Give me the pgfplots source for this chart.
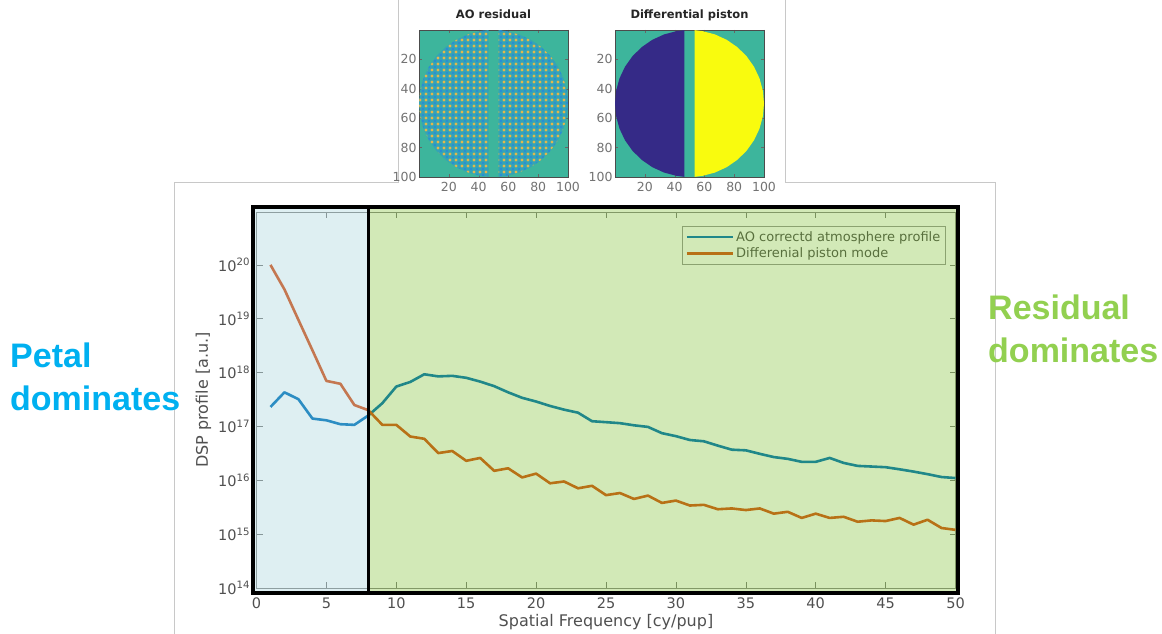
\documentclass[border=0pt]{standalone}
\usepackage{fontspec}
\setmainfont{DejaVu Sans}
\newfontfamily\arialfont{Liberation Sans}
\usepackage{pgfplots}
\pgfplotsset{compat=1.18}
\usetikzlibrary{patterns.meta}

\definecolor{mlblue}{RGB}{0,114,189}
\definecolor{mlorange}{RGB}{217,83,25}
\definecolor{ovblue}{RGB}{148,205,212}
\definecolor{ovgreen}{RGB}{108,185,18}
\definecolor{petal}{RGB}{0,176,240}
\definecolor{resid}{RGB}{146,208,80}
\definecolor{parteal}{RGB}{61,181,156}
\definecolor{parblue}{RGB}{53,42,135}
\definecolor{paryellow}{RGB}{249,251,14}
\definecolor{spkblue}{RGB}{40,140,215}
\definecolor{spkyel}{RGB}{226,184,76}
\definecolor{panelgray}{RGB}{200,200,200}
\definecolor{ticklab}{RGB}{80,80,80}

\pgfplotstableread{
x y
1 2.3e17
2 4.3e17
3 3.2e17
4 1.4e17
5 1.3e17
6 1.1e17
7 1.07e17
8 1.6e17
9 2.7e17
10 5.5e17
11 6.7e17
12 9.3e17
13 8.5e17
14 8.7e17
15 8.0e17
16 6.8e17
17 5.6e17
18 4.3e17
19 3.4e17
20 2.9e17
21 2.4e17
22 2.05e17
23 1.8e17
24 1.25e17
25 1.2e17
26 1.15e17
27 1.05e17
28 9.8e16
29 7.5e16
30 6.6e16
31 5.6e16
32 5.3e16
33 4.4e16
34 3.7e16
35 3.6e16
36 3.1e16
37 2.7e16
38 2.5e16
39 2.2e16
40 2.2e16
41 2.6e16
42 2.1e16
43 1.85e16
44 1.8e16
45 1.75e16
46 1.6e16
47 1.45e16
48 1.3e16
49 1.15e16
50 1.1e16
}\aotable

\pgfplotstableread{
x y
1 1e20
2 3.5e19
3 9.5e18
4 2.6e18
5 7e17
6 6.2e17
7 2.5e17
8 2.0e17
9 1.07e17
10 1.07e17
11 6.5e16
12 5.9e16
13 3.2e16
14 3.5e16
15 2.3e16
16 2.6e16
17 1.5e16
18 1.67e16
19 1.13e16
20 1.33e16
21 8.8e15
22 9.5e15
23 7.1e15
24 7.9e15
25 5.3e15
26 5.8e15
27 4.5e15
28 5.2e15
29 3.8e15
30 4.2e15
31 3.4e15
32 3.5e15
33 2.9e15
34 3.0e15
35 2.8e15
36 3.0e15
37 2.4e15
38 2.6e15
39 2.0e15
40 2.4e15
41 2.0e15
42 2.1e15
43 1.7e15
44 1.8e15
45 1.75e15
46 2.0e15
47 1.5e15
48 1.85e15
49 1.3e15
50 1.2e15
}\pistontable

\pgfplotsset{
  heat/.style={
    width=149pt, height=147pt, scale only axis, anchor=south west,
    xmin=0, xmax=100, ymin=0, ymax=100, y dir=reverse,
    xtick={20,40,...,100}, ytick={20,40,...,100},
    tick align=inside, major tick length=3pt,
    tick style={black!60},
    axis line style={black!70, line width=0.6pt},
    tick label style={font=\fontsize{12.5}{13}\selectfont, text=black!55},
    yticklabel style={xshift=1pt},
    xticklabel style={yshift=-2pt},
    title style={font=\bfseries\fontsize{11.5}{12}\selectfont, text=black!85,
                 at={(axis description cs:0.5,1)}, anchor=base, yshift=5pt},
    axis background/.style={fill=parteal},
    /pgf/number format/assume math mode=true,
  }
}

\begin{document}
\begin{tikzpicture}
\useasboundingbox (0pt,0pt) rectangle (1162pt,634pt);
\fill[white] (0pt,0pt) rectangle (1162pt,634pt);

% panel outlines
\draw[panelgray, line width=1pt] (174pt,0pt) -- (174pt,451pt) -- (398pt,451pt) -- (398pt,634pt);
\draw[panelgray, line width=1pt] (785pt,634pt) -- (785pt,451pt) -- (995pt,451pt) -- (995pt,0pt);

% ---- AO residual inset
\begin{axis}[heat, at={(419pt,457pt)}, title={AO residual}]
\addplot[fill=spkblue!45!parteal, draw=none] coordinates {(46.5,0.12) (41.32,0.76) (32.9,3.02) (25,6.70) (17.86,11.70) (11.70,17.86) (6.70,25) (3.02,32.9) (0.76,41.32) (0,50) (0.76,58.68) (3.02,67.1) (6.70,75) (11.70,82.14) (17.86,88.30) (25,93.30) (32.9,96.98) (41.32,99.24) (46.5,99.88)} -- cycle;
\addplot[fill=spkblue!45!parteal, draw=none] coordinates {(53.5,0.12) (58.68,0.76) (67.1,3.02) (75,6.70) (82.14,11.70) (88.30,17.86) (93.30,25) (96.98,32.9) (99.24,41.32) (100,50) (99.24,58.68) (96.98,67.1) (93.30,75) (88.30,82.14) (82.14,88.30) (75,93.30) (67.1,96.98) (58.68,99.24) (53.5,99.88)} -- cycle;
\addplot[pattern={Dots[distance=6pt, radius=1.6pt]}, pattern color=spkyel, draw=none] coordinates {(46.5,0.12) (41.32,0.76) (32.9,3.02) (25,6.70) (17.86,11.70) (11.70,17.86) (6.70,25) (3.02,32.9) (0.76,41.32) (0,50) (0.76,58.68) (3.02,67.1) (6.70,75) (11.70,82.14) (17.86,88.30) (25,93.30) (32.9,96.98) (41.32,99.24) (46.5,99.88)} -- cycle;
\addplot[pattern={Dots[distance=6pt, radius=1.6pt]}, pattern color=spkyel, draw=none] coordinates {(53.5,0.12) (58.68,0.76) (67.1,3.02) (75,6.70) (82.14,11.70) (88.30,17.86) (93.30,25) (96.98,32.9) (99.24,41.32) (100,50) (99.24,58.68) (96.98,67.1) (93.30,75) (88.30,82.14) (82.14,88.30) (75,93.30) (67.1,96.98) (58.68,99.24) (53.5,99.88)} -- cycle;
\addplot[pattern={Dots[distance=6pt, radius=1.3pt, xshift=3pt, yshift=3pt]}, pattern color=spkblue, draw=none] coordinates {(46.5,0.12) (41.32,0.76) (32.9,3.02) (25,6.70) (17.86,11.70) (11.70,17.86) (6.70,25) (3.02,32.9) (0.76,41.32) (0,50) (0.76,58.68) (3.02,67.1) (6.70,75) (11.70,82.14) (17.86,88.30) (25,93.30) (32.9,96.98) (41.32,99.24) (46.5,99.88)} -- cycle;
\addplot[pattern={Dots[distance=6pt, radius=1.3pt, xshift=3pt, yshift=3pt]}, pattern color=spkblue, draw=none] coordinates {(53.5,0.12) (58.68,0.76) (67.1,3.02) (75,6.70) (82.14,11.70) (88.30,17.86) (93.30,25) (96.98,32.9) (99.24,41.32) (100,50) (99.24,58.68) (96.98,67.1) (93.30,75) (88.30,82.14) (82.14,88.30) (75,93.30) (67.1,96.98) (58.68,99.24) (53.5,99.88)} -- cycle;
\end{axis}

% ---- Differential piston inset
\begin{axis}[heat, at={(615pt,457pt)}, title={Differential piston}]
\addplot[fill=parblue, draw=none] coordinates {(46.5,0.12) (41.32,0.76) (32.9,3.02) (25,6.70) (17.86,11.70) (11.70,17.86) (6.70,25) (3.02,32.9) (0.76,41.32) (0,50) (0.76,58.68) (3.02,67.1) (6.70,75) (11.70,82.14) (17.86,88.30) (25,93.30) (32.9,96.98) (41.32,99.24) (46.5,99.88)} -- cycle;
\addplot[fill=paryellow, draw=none] coordinates {(53.5,0.12) (58.68,0.76) (67.1,3.02) (75,6.70) (82.14,11.70) (88.30,17.86) (93.30,25) (96.98,32.9) (99.24,41.32) (100,50) (99.24,58.68) (96.98,67.1) (93.30,75) (88.30,82.14) (82.14,88.30) (75,93.30) (67.1,96.98) (58.68,99.24) (53.5,99.88)} -- cycle;
\end{axis}

% ---- main spectrum axis
\begin{axis}[
  at={(256.5pt,46pt)}, anchor=south west,
  width=699pt, height=376pt, scale only axis,
  xmin=0, xmax=50,
  ymode=log, log basis y=10, ymin=1e14, ymax=9.6e20,
  xtick={0,5,...,50},
  ytick={1e14,1e15,1e16,1e17,1e18,1e19,1e20},
  yticklabel={\pgfmathtruncatemacro{\ex}{round(\tick)}10\textsuperscript{\ex}},
  /pgf/number format/assume math mode=true,
  tick align=inside,
  major tick length=6pt, minor tick length=3pt,
  every tick/.style={black!50, line width=0.6pt},
  axis line style={draw=black!45, line width=0.8pt},
  tick label style={font=\fontsize{14.5}{16}\selectfont, text=ticklab},
  xticklabel style={yshift=-6pt},
  yticklabel style={xshift=-3pt},
  xlabel={Spatial Frequency [cy/pup]},
  ylabel={DSP profile [a.u.]},
  label style={font=\fontsize{16}{18}\selectfont, text=ticklab},
  xlabel style={at={(axis description cs:0.5,-0.09)}, anchor=center},
  ylabel style={at={(axis description cs:-0.076,0.5)}, anchor=center},
  legend style={at={(axis description cs:1,1)}, anchor=north east,
    xshift=-10pt, yshift=-14pt, font=\fontsize{13}{14}\selectfont,
    text=ticklab, draw=black!40, fill=white, inner sep=3pt,
    row sep=1pt},
  legend cell align=left,
  legend image code/.code={\draw[#1, line width=2.6pt] (0pt,0pt) -- (46pt,0pt);},
]
\addplot[color=mlblue, line width=2.6pt, line join=round] table[x=x,y=y] {\aotable};
\addlegendentry{AO correctd atmosphere profile}
\addplot[color=mlorange, line width=2.6pt, line join=round] table[x=x,y=y] {\pistontable};
\addlegendentry{Differenial piston mode}
\end{axis}

% slide overlays and frame
\fill[ovblue, fill opacity=0.3] (253pt,41pt) rectangle (368pt,427pt);
\fill[ovgreen, fill opacity=0.3] (368pt,41pt) rectangle (958pt,427pt);
\draw[black, line width=3.5pt] (253pt,41pt) rectangle (958pt,427pt);
\draw[black, line width=3pt] (368pt,41pt) -- (368pt,427pt);

% annotations
\node[anchor=base west, inner sep=0pt, text=petal, font=\arialfont\bfseries\fontsize{34}{40}\selectfont] at (10pt,266pt) {Petal};
\node[anchor=base west, inner sep=0pt, text=petal, font=\arialfont\bfseries\fontsize{34}{40}\selectfont] at (10pt,223pt) {dominates};
\node[anchor=base west, inner sep=0pt, text=resid, font=\arialfont\bfseries\fontsize{34}{40}\selectfont] at (988pt,314pt) {Residual};
\node[anchor=base west, inner sep=0pt, text=resid, font=\arialfont\bfseries\fontsize{34}{40}\selectfont] at (988pt,271pt) {dominates};
\end{tikzpicture}
\end{document}
